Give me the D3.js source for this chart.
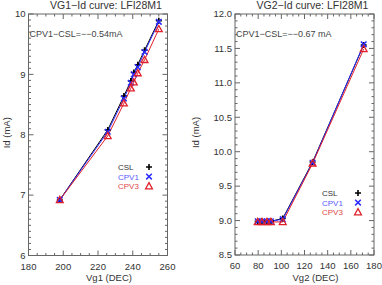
<!DOCTYPE html>
<html><head><meta charset="utf-8">
<script src="https://cdn.jsdelivr.net/npm/d3@7"></script>
<style>body{margin:0;background:#fff}svg{display:block}text{font-family:"Liberation Sans",Arial,sans-serif}</style>
</head><body>
<svg id="c" width="382" height="285"></svg>
<script>
// Panel 1: VG1-Id
const vg1 = [198, 225.6, 234.9, 238.9, 240.6, 242.9, 246.8, 255];
const csl1 = [6.92, 8.08, 8.64, 8.89, 9.03, 9.16, 9.40, 9.89];
const cpv1_1 = [6.92, 8.05, 8.60, 8.86, 9.00, 9.12, 9.37, 9.87];
const cpv3_1 = [6.92, 7.98, 8.52, 8.77, 8.87, 9.02, 9.24, 9.75];
const xTicks1 = [180, 200, 220, 240, 260];
const yTicks1 = [6, 7, 8, 9, 10];
// Panel 2: VG2-Id
const vg2 = [79.6, 83.3, 87.6, 91, 101.2, 127, 171.1];
const csl2 = [8.99, 8.99, 8.99, 8.99, 9.03, 9.85, 11.55];
const cpv1_2 = [8.99, 8.99, 8.99, 8.99, 9.02, 9.84, 11.56];
const cpv3_2 = [8.98, 8.98, 8.98, 8.98, 8.98, 9.83, 11.49];
const xTicks2 = [60, 80, 100, 120, 140, 160, 180];
const yTicks2 = [8.5, 9.0, 9.5, 10.0, 10.5, 11.0, 11.5, 12.0];
const seriesNames = ["CSL", "CPV1", "CPV3"];

const svg = d3.select("#c");
const colors = {CSL: "#000000", CPV1: "#2a2aff", CPV3: "#e0202a"};
const textColors = {CSL: "#333333", CPV1: "#5a5aff", CPV3: "#e04848"};
const axisCol = "#666";

function panel(o) {
  const g = svg.append("g");
  const x = d3.scaleLinear().domain(o.xd).range([o.x0, o.x1]);
  const y = d3.scaleLinear().domain(o.yd).range([o.y1, o.y0]);
  g.append("rect").attr("x", o.x0).attr("y", o.y0).attr("width", o.x1 - o.x0).attr("height", o.y1 - o.y0)
    .attr("fill", "none").attr("stroke", axisCol).attr("stroke-width", 1);
  const xMinor = d3.range(o.xd[0], o.xd[1] + 1e-9, o.xMinorStep);
  const yMinor = d3.range(0, Math.round((o.yd[1] - o.yd[0]) / o.yMinorStep) + 1).map(i => o.yd[0] + i * o.yMinorStep);
  const tg = g.append("g").attr("stroke", axisCol).attr("stroke-width", 1);
  xMinor.forEach(v => {
    const major = o.xTicks.some(t => Math.abs(t - v) < 1e-6);
    const L = major ? 5 : 2.5;
    tg.append("line").attr("x1", x(v)).attr("x2", x(v)).attr("y1", o.y1).attr("y2", o.y1 - L);
    tg.append("line").attr("x1", x(v)).attr("x2", x(v)).attr("y1", o.y0).attr("y2", o.y0 + L);
  });
  yMinor.forEach(v => {
    const major = o.yTicks.some(t => Math.abs(t - v) < 1e-6);
    const L = major ? 5 : 2.5;
    tg.append("line").attr("y1", y(v)).attr("y2", y(v)).attr("x1", o.x0).attr("x2", o.x0 + L);
    tg.append("line").attr("y1", y(v)).attr("y2", y(v)).attr("x1", o.x1).attr("x2", o.x1 - L);
  });
  o.xTicks.forEach(v => g.append("text").attr("x", x(v)).attr("y", o.y1 + 14).attr("text-anchor", "middle")
    .attr("font-size", 9.5).attr("fill", "#333").text(v));
  o.yTicks.forEach(v => g.append("text").attr("x", o.x0 - 3).attr("y", y(v) + 3.3).attr("text-anchor", "end")
    .attr("font-size", 9.5).attr("fill", "#333").text(d3.format(o.yFmt)(v)));
  g.append("text").attr("x", (o.x0 + o.x1) / 2 + 8).attr("y", 8.5).attr("text-anchor", "middle")
    .attr("font-size", 10.5).attr("fill", "#333").text(o.title);
  g.append("text").attr("x", (o.x0 + o.x1) / 2 + 11).attr("y", 281).attr("text-anchor", "middle")
    .attr("font-size", 9.5).attr("fill", "#333").text(o.xlabel);
  g.append("text").attr("transform", `translate(${o.ylabX},${(o.y0 + o.y1) / 2 - 2}) rotate(-90)`)
    .attr("text-anchor", "middle").attr("font-size", 9.5).attr("fill", "#333").text("Id (mA)");
  g.append("text").attr("x", o.x0 + 1).attr("y", 37).attr("font-size", 9).attr("fill", "#444").text(o.note);
  const line = d3.line().x(d => x(d[0])).y(d => y(d[1]));
  o.series.forEach((s, i) => {
    const pts = o.xs.map((v, j) => [v, s[j]]);
    g.append("path").attr("d", line(pts)).attr("fill", "none").attr("stroke", colors[seriesNames[i]]).attr("stroke-width", 1);
  });
  o.series.forEach((s, i) => {
    o.xs.forEach((v, j) => marker(g, seriesNames[i], x(v), y(s[j])));
  });
  seriesNames.forEach((n, i) => {
    const ly = o.legY + i * 9.6;
    g.append("text").attr("x", o.legX).attr("y", ly + 3).attr("font-size", 8).attr("fill", textColors[n]).text(n);
    marker(g, n, o.legSym, ly);
  });
}

function marker(g, n, cx, cy) {
  const c = colors[n];
  if (n === "CSL") {
    g.append("path").attr("d", `M${cx - 3},${cy}H${cx + 3}M${cx},${cy - 3}V${cy + 3}`).attr("stroke", c).attr("stroke-width", 1.6).attr("fill", "none");
  } else if (n === "CPV1") {
    g.append("path").attr("d", `M${cx - 2.8},${cy - 2.8}L${cx + 2.8},${cy + 2.8}M${cx - 2.8},${cy + 2.8}L${cx + 2.8},${cy - 2.8}`).attr("stroke", c).attr("stroke-width", 1.5).attr("fill", "none");
  } else {
    g.append("path").attr("d", `M${cx},${cy - 3.6}L${cx + 3.4},${cy + 2.6}L${cx - 3.4},${cy + 2.6}Z`).attr("stroke", c).attr("stroke-width", 1.3).attr("fill", "none");
  }
}

panel({x0: 28.5, x1: 167.5, y0: 14, y1: 255.5, xd: [180, 260], yd: [6, 10], xTicks: xTicks1, yTicks: yTicks1,
  xMinorStep: 5, yMinorStep: 0.1, yFmt: "d", title: "VG1\u2212Id curve: LFI28M1", xlabel: "Vg1 (DEC)", ylabX: 9.5,
  note: "CPV1\u2212CSL=\u2212\u22120.54mA", xs: vg1, series: [csl1, cpv1_1, cpv3_1], legX: 118, legSym: 149, legY: 167});
panel({x0: 235, x1: 374, y0: 14, y1: 255, xd: [60, 180], yd: [8.5, 12], xTicks: xTicks2, yTicks: yTicks2,
  xMinorStep: 5, yMinorStep: 0.1, yFmt: ".1f", title: "VG2\u2212Id curve: LFI28M1", xlabel: "Vg2 (DEC)", ylabX: 199,
  note: "CPV1\u2212CSL=\u2212\u22120.67 mA", xs: vg2, series: [csl2, cpv1_2, cpv3_2], legX: 322, legSym: 358, legY: 193});
</script>
</body></html>
